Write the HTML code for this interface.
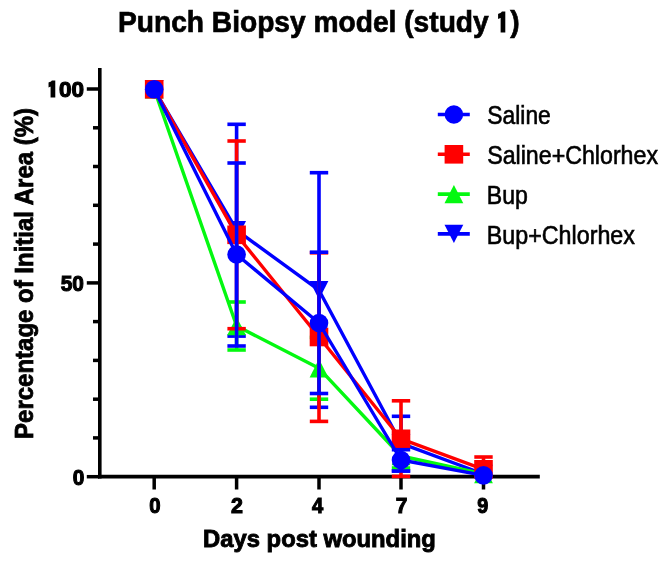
<!DOCTYPE html>
<html><head><meta charset="utf-8"><title>Punch Biopsy model (study 1)</title>
<style>html,body{margin:0;padding:0;background:#fff;overflow:hidden;} svg{display:block;filter:blur(0.35px);}</style></head>
<body>
<svg width="666" height="565" viewBox="0 0 666 565">
<rect width="666" height="565" fill="#fff"/>
<line x1="99.8" y1="68" x2="99.8" y2="478.5" stroke="#000" stroke-width="3.6"/>
<line x1="98" y1="476.7" x2="539.8" y2="476.7" stroke="#000" stroke-width="3.7"/>
<line x1="86.8" y1="476.7" x2="99" y2="476.7" stroke="#000" stroke-width="3.5"/>
<line x1="93" y1="437.9" x2="99" y2="437.9" stroke="#000" stroke-width="3.5"/>
<line x1="93" y1="399.2" x2="99" y2="399.2" stroke="#000" stroke-width="3.5"/>
<line x1="93" y1="360.4" x2="99" y2="360.4" stroke="#000" stroke-width="3.5"/>
<line x1="93" y1="321.6" x2="99" y2="321.6" stroke="#000" stroke-width="3.5"/>
<line x1="86.8" y1="282.9" x2="99" y2="282.9" stroke="#000" stroke-width="3.5"/>
<line x1="93" y1="244.1" x2="99" y2="244.1" stroke="#000" stroke-width="3.5"/>
<line x1="93" y1="205.3" x2="99" y2="205.3" stroke="#000" stroke-width="3.5"/>
<line x1="93" y1="166.5" x2="99" y2="166.5" stroke="#000" stroke-width="3.5"/>
<line x1="93" y1="127.8" x2="99" y2="127.8" stroke="#000" stroke-width="3.5"/>
<line x1="86.8" y1="89.0" x2="99" y2="89.0" stroke="#000" stroke-width="3.5"/>
<line x1="154.2" y1="477" x2="154.2" y2="489.5" stroke="#000" stroke-width="3.5"/>
<line x1="236.6" y1="477" x2="236.6" y2="489.5" stroke="#000" stroke-width="3.5"/>
<line x1="319.0" y1="477" x2="319.0" y2="489.5" stroke="#000" stroke-width="3.5"/>
<line x1="401.0" y1="477" x2="401.0" y2="489.5" stroke="#000" stroke-width="3.5"/>
<line x1="483.5" y1="477" x2="483.5" y2="489.5" stroke="#000" stroke-width="3.5"/>
<g>
<line x1="236.6" y1="230.2" x2="236.6" y2="124.3" stroke="#0000ff" stroke-width="3.6"/>
<line x1="227.4" y1="124.3" x2="245.8" y2="124.3" stroke="#0000ff" stroke-width="3.6"/>
<line x1="236.6" y1="230.2" x2="236.6" y2="336.1" stroke="#0000ff" stroke-width="3.6"/>
<line x1="227.4" y1="336.1" x2="245.8" y2="336.1" stroke="#0000ff" stroke-width="3.6"/>
<line x1="319.0" y1="290.2" x2="319.0" y2="172.7" stroke="#0000ff" stroke-width="3.6"/>
<line x1="309.8" y1="172.7" x2="328.2" y2="172.7" stroke="#0000ff" stroke-width="3.6"/>
<line x1="319.0" y1="290.2" x2="319.0" y2="407.3" stroke="#0000ff" stroke-width="3.6"/>
<line x1="309.8" y1="407.3" x2="328.2" y2="407.3" stroke="#0000ff" stroke-width="3.6"/>
<line x1="401.0" y1="443.3" x2="401.0" y2="416.3" stroke="#0000ff" stroke-width="3.6"/>
<line x1="391.8" y1="416.3" x2="410.2" y2="416.3" stroke="#0000ff" stroke-width="3.6"/>
<line x1="401.0" y1="443.3" x2="401.0" y2="471.0" stroke="#0000ff" stroke-width="3.6"/>
<line x1="391.8" y1="471.0" x2="410.2" y2="471.0" stroke="#0000ff" stroke-width="3.6"/>
<polyline points="154.2,89.3 236.6,230.2 319.0,290.2 401.0,443.3 483.5,474.0" fill="none" stroke="#0000ff" stroke-width="3.4" stroke-linejoin="round"/>
<polygon points="144.8,80.1 163.6,80.1 154.2,98.5" fill="#0000ff"/>
<polygon points="227.2,221.0 246.0,221.0 236.6,239.4" fill="#0000ff"/>
<polygon points="309.6,281.0 328.4,281.0 319.0,299.4" fill="#0000ff"/>
<polygon points="391.6,434.1 410.4,434.1 401.0,452.5" fill="#0000ff"/>
<polygon points="474.1,464.8 492.9,464.8 483.5,483.2" fill="#0000ff"/>
</g>
<g>
<line x1="236.6" y1="326.0" x2="236.6" y2="302.0" stroke="#04f810" stroke-width="3.6"/>
<line x1="227.4" y1="302.0" x2="245.8" y2="302.0" stroke="#04f810" stroke-width="3.6"/>
<line x1="236.6" y1="326.0" x2="236.6" y2="350.0" stroke="#04f810" stroke-width="3.6"/>
<line x1="227.4" y1="350.0" x2="245.8" y2="350.0" stroke="#04f810" stroke-width="3.6"/>
<line x1="319.0" y1="368.3" x2="319.0" y2="337.4" stroke="#04f810" stroke-width="3.6"/>
<line x1="309.8" y1="337.4" x2="328.2" y2="337.4" stroke="#04f810" stroke-width="3.6"/>
<line x1="319.0" y1="368.3" x2="319.0" y2="399.2" stroke="#04f810" stroke-width="3.6"/>
<line x1="309.8" y1="399.2" x2="328.2" y2="399.2" stroke="#04f810" stroke-width="3.6"/>
<line x1="401.0" y1="456.0" x2="401.0" y2="443.8" stroke="#04f810" stroke-width="3.6"/>
<line x1="391.8" y1="443.8" x2="410.2" y2="443.8" stroke="#04f810" stroke-width="3.6"/>
<line x1="401.0" y1="456.0" x2="401.0" y2="468.0" stroke="#04f810" stroke-width="3.6"/>
<line x1="391.8" y1="468.0" x2="410.2" y2="468.0" stroke="#04f810" stroke-width="3.6"/>
<polyline points="154.2,89.3 236.6,326.0 319.0,368.3 401.0,456.0 483.5,474.0" fill="none" stroke="#04f810" stroke-width="3.4" stroke-linejoin="round"/>
<polygon points="154.2,80.1 163.6,98.5 144.8,98.5" fill="#04f810"/>
<polygon points="236.6,316.8 246.0,335.2 227.2,335.2" fill="#04f810"/>
<polygon points="319.0,359.1 328.4,377.5 309.6,377.5" fill="#04f810"/>
<polygon points="401.0,446.8 410.4,465.2 391.6,465.2" fill="#04f810"/>
<polygon points="483.5,464.8 492.9,483.2 474.1,483.2" fill="#04f810"/>
</g>
<g>
<line x1="236.6" y1="234.8" x2="236.6" y2="141.0" stroke="#ff0000" stroke-width="3.6"/>
<line x1="227.4" y1="141.0" x2="245.8" y2="141.0" stroke="#ff0000" stroke-width="3.6"/>
<line x1="236.6" y1="234.8" x2="236.6" y2="328.7" stroke="#ff0000" stroke-width="3.6"/>
<line x1="227.4" y1="328.7" x2="245.8" y2="328.7" stroke="#ff0000" stroke-width="3.6"/>
<line x1="319.0" y1="337.0" x2="319.0" y2="252.8" stroke="#ff0000" stroke-width="3.6"/>
<line x1="309.8" y1="252.8" x2="328.2" y2="252.8" stroke="#ff0000" stroke-width="3.6"/>
<line x1="319.0" y1="337.0" x2="319.0" y2="421.4" stroke="#ff0000" stroke-width="3.6"/>
<line x1="309.8" y1="421.4" x2="328.2" y2="421.4" stroke="#ff0000" stroke-width="3.6"/>
<line x1="401.0" y1="438.8" x2="401.0" y2="400.8" stroke="#ff0000" stroke-width="3.6"/>
<line x1="391.8" y1="400.8" x2="410.2" y2="400.8" stroke="#ff0000" stroke-width="3.6"/>
<line x1="401.0" y1="438.8" x2="401.0" y2="476.4" stroke="#ff0000" stroke-width="3.6"/>
<line x1="391.8" y1="476.4" x2="410.2" y2="476.4" stroke="#ff0000" stroke-width="3.6"/>
<line x1="483.5" y1="469.3" x2="483.5" y2="457.0" stroke="#ff0000" stroke-width="3.6"/>
<line x1="474.3" y1="457.0" x2="492.7" y2="457.0" stroke="#ff0000" stroke-width="3.6"/>
<polyline points="154.2,89.3 236.6,234.8 319.0,337.0 401.0,438.8 483.5,469.3" fill="none" stroke="#ff0000" stroke-width="3.4" stroke-linejoin="round"/>
<rect x="144.9" y="80.0" width="18.6" height="18.6" fill="#ff0000"/>
<rect x="227.3" y="225.5" width="18.6" height="18.6" fill="#ff0000"/>
<rect x="309.7" y="327.7" width="18.6" height="18.6" fill="#ff0000"/>
<rect x="391.7" y="429.5" width="18.6" height="18.6" fill="#ff0000"/>
<rect x="474.2" y="460.0" width="18.6" height="18.6" fill="#ff0000"/>
</g>
<g>
<line x1="236.6" y1="254.5" x2="236.6" y2="163.0" stroke="#0000ff" stroke-width="3.6"/>
<line x1="227.4" y1="163.0" x2="245.8" y2="163.0" stroke="#0000ff" stroke-width="3.6"/>
<line x1="236.6" y1="254.5" x2="236.6" y2="346.0" stroke="#0000ff" stroke-width="3.6"/>
<line x1="227.4" y1="346.0" x2="245.8" y2="346.0" stroke="#0000ff" stroke-width="3.6"/>
<line x1="319.0" y1="323.0" x2="319.0" y2="252.2" stroke="#0000ff" stroke-width="3.6"/>
<line x1="309.8" y1="252.2" x2="328.2" y2="252.2" stroke="#0000ff" stroke-width="3.6"/>
<line x1="319.0" y1="323.0" x2="319.0" y2="393.5" stroke="#0000ff" stroke-width="3.6"/>
<line x1="309.8" y1="393.5" x2="328.2" y2="393.5" stroke="#0000ff" stroke-width="3.6"/>
<line x1="401.0" y1="460.0" x2="401.0" y2="449.7" stroke="#0000ff" stroke-width="3.6"/>
<line x1="391.8" y1="449.7" x2="410.2" y2="449.7" stroke="#0000ff" stroke-width="3.6"/>
<line x1="401.0" y1="460.0" x2="401.0" y2="471.0" stroke="#0000ff" stroke-width="3.6"/>
<line x1="391.8" y1="471.0" x2="410.2" y2="471.0" stroke="#0000ff" stroke-width="3.6"/>
<polyline points="154.2,89.3 236.6,254.5 319.0,323.0 401.0,460.0 483.5,475.4" fill="none" stroke="#0000ff" stroke-width="3.4" stroke-linejoin="round"/>
<circle cx="154.2" cy="89.3" r="9.3" fill="#0000ff"/>
<circle cx="236.6" cy="254.5" r="9.3" fill="#0000ff"/>
<circle cx="319.0" cy="323.0" r="9.3" fill="#0000ff"/>
<circle cx="401.0" cy="460.0" r="9.3" fill="#0000ff"/>
<circle cx="483.5" cy="475.4" r="9.3" fill="#0000ff"/>
</g>
<text x="117.96" y="32.2" font-family="Liberation Sans, Arial, Helvetica, sans-serif" font-size="29.8" font-weight="bold" stroke="#000" stroke-width="0.7" textLength="401.56" lengthAdjust="spacingAndGlyphs">Punch Biopsy model (study<tspan letter-spacing="0.06"> </tspan><tspan font-family="IPAGothic, Liberation Sans, sans-serif" font-size="25.93" stroke-width="1.90" letter-spacing="1.34">1</tspan>)</text>
<text transform="translate(33.3,438.94) rotate(-90)" x="0" y="0" font-family="Liberation Sans, Arial, Helvetica, sans-serif" font-size="25.5" font-weight="bold" stroke="#000" stroke-width="0.8" textLength="331.00" lengthAdjust="spacingAndGlyphs">Percentage of Initial Area (%)</text>
<text x="203.07" y="547.2" font-family="Liberation Sans, Arial, Helvetica, sans-serif" font-size="24.3" font-weight="bold" stroke="#000" stroke-width="0.9" textLength="232.80" lengthAdjust="spacingAndGlyphs">Days post wounding</text>
<text x="47.73" y="97.2" font-family="Liberation Sans, Arial, Helvetica, sans-serif" font-size="22" font-weight="bold" stroke="#000" stroke-width="1.1" textLength="36.27" lengthAdjust="spacingAndGlyphs"><tspan font-family="IPAGothic, Liberation Sans, sans-serif" font-size="19.14" stroke-width="2.30" letter-spacing="1.35">1</tspan>00</text>
<text x="60.75" y="291.4" font-family="Liberation Sans, Arial, Helvetica, sans-serif" font-size="22" font-weight="bold" stroke="#000" stroke-width="1.1" textLength="23.22" lengthAdjust="spacingAndGlyphs">50</text>
<text x="72.65" y="484.9" font-family="Liberation Sans, Arial, Helvetica, sans-serif" font-size="22" font-weight="bold" stroke="#000" stroke-width="1.1" textLength="11.62" lengthAdjust="spacingAndGlyphs">0</text>
<text x="149.15" y="512.5" font-family="Liberation Sans, Arial, Helvetica, sans-serif" font-size="22" font-weight="bold" stroke="#000" stroke-width="1.1" textLength="11.32" lengthAdjust="spacingAndGlyphs">0</text>
<text x="230.95" y="512.5" font-family="Liberation Sans, Arial, Helvetica, sans-serif" font-size="22" font-weight="bold" stroke="#000" stroke-width="1.1" textLength="11.93" lengthAdjust="spacingAndGlyphs">2</text>
<text x="312.05" y="512.5" font-family="Liberation Sans, Arial, Helvetica, sans-serif" font-size="22" font-weight="bold" stroke="#000" stroke-width="1.1" textLength="11.20" lengthAdjust="spacingAndGlyphs">4</text>
<text x="395.65" y="512.5" font-family="Liberation Sans, Arial, Helvetica, sans-serif" font-size="22" font-weight="bold" stroke="#000" stroke-width="1.1" textLength="11.62" lengthAdjust="spacingAndGlyphs">7</text>
<text x="477.15" y="512.5" font-family="Liberation Sans, Arial, Helvetica, sans-serif" font-size="22" font-weight="bold" stroke="#000" stroke-width="1.1" textLength="11.01" lengthAdjust="spacingAndGlyphs">9</text>
<text x="487.31" y="124.4" font-family="Liberation Sans, Arial, Helvetica, sans-serif" font-size="25.8" stroke="#000" stroke-width="0.6" textLength="63.49" lengthAdjust="spacingAndGlyphs">Saline</text>
<text x="487.20" y="163.9" font-family="Liberation Sans, Arial, Helvetica, sans-serif" font-size="25.8" stroke="#000" stroke-width="0.6" textLength="170.81" lengthAdjust="spacingAndGlyphs">Saline+Chlorhex</text>
<text x="486.81" y="203.6" font-family="Liberation Sans, Arial, Helvetica, sans-serif" font-size="25.8" stroke="#000" stroke-width="0.6" textLength="41.10" lengthAdjust="spacingAndGlyphs">Bup</text>
<text x="486.80" y="243.6" font-family="Liberation Sans, Arial, Helvetica, sans-serif" font-size="25.8" stroke="#000" stroke-width="0.6" textLength="148.11" lengthAdjust="spacingAndGlyphs">Bup+Chlorhex</text>
<line x1="437.8" y1="114.5" x2="469.8" y2="114.5" stroke="#0000ff" stroke-width="3.6"/>
<circle cx="453.9" cy="114.5" r="9.3" fill="#0000ff"/>
<line x1="437.8" y1="154.3" x2="469.8" y2="154.3" stroke="#ff0000" stroke-width="3.6"/>
<rect x="444.6" y="145.0" width="18.6" height="18.6" fill="#ff0000"/>
<line x1="437.8" y1="194.1" x2="469.8" y2="194.1" stroke="#04f810" stroke-width="3.6"/>
<polygon points="453.9,184.9 463.3,203.3 444.5,203.3" fill="#04f810"/>
<line x1="437.8" y1="233.9" x2="469.8" y2="233.9" stroke="#0000ff" stroke-width="3.6"/>
<polygon points="444.5,224.7 463.3,224.7 453.9,243.1" fill="#0000ff"/>
</svg>
</body></html>
